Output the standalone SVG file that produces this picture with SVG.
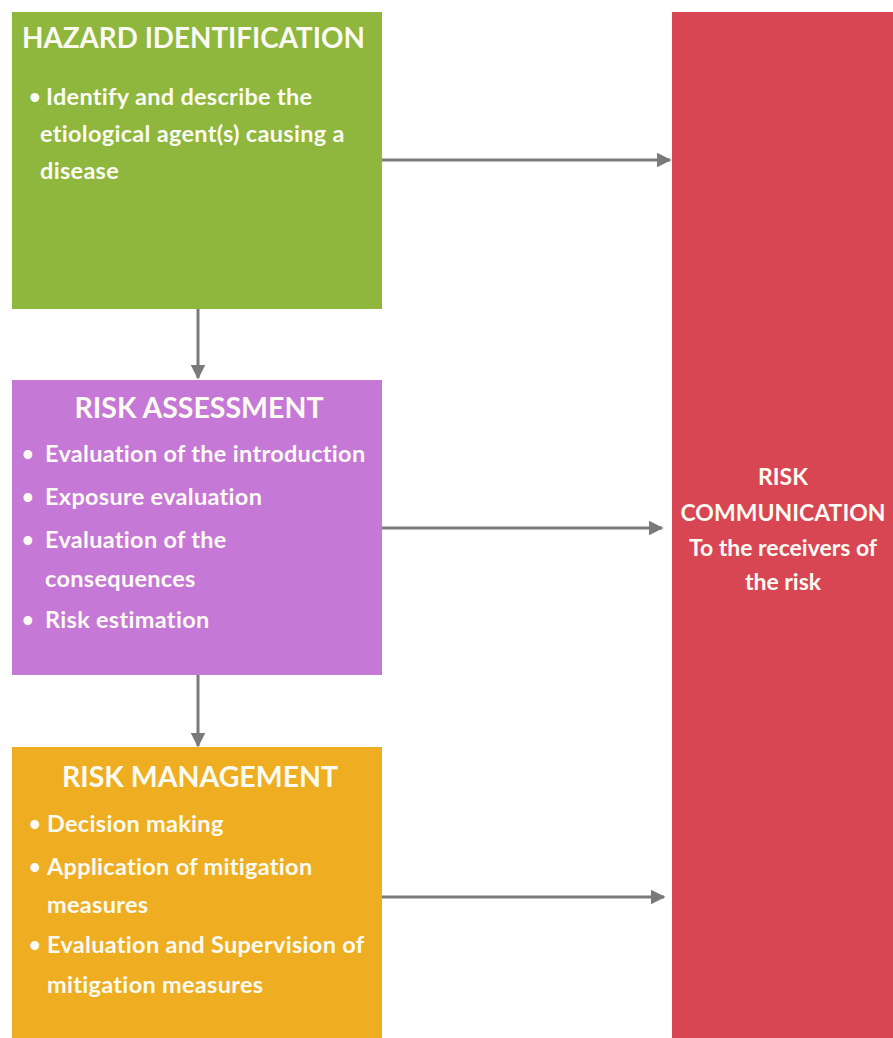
<svg xmlns="http://www.w3.org/2000/svg" width="893" height="1038" viewBox="0 0 893 1038">
<style>
text{font-family:Lato,"Open Sans","Liberation Sans",sans-serif;font-weight:bold;fill:#fbfbf3}
.t{font-size:28.5px}
.th{font-size:27.8px}
.b{font-size:23.5px;letter-spacing:0.3px}
.d{font-size:20px}
.c{font-size:23px;text-anchor:middle}
.mid{text-anchor:middle}
.conn{stroke:#7a7a7a;stroke-width:3;fill:none}
</style>
<defs>
<marker id="ah" viewBox="0 0 10 10" refX="9" refY="5" markerWidth="5" markerHeight="5" markerUnits="strokeWidth" orient="auto">
<path d="M0,0 L10,5 L0,10 z" fill="#7a7a7a"/>
</marker>
</defs>
<rect width="893" height="1038" fill="#ffffff"/>
<g id="connectors">
<path class="conn" d="M382,160 L670,160" marker-end="url(#ah)"/>
<path class="conn" d="M382,528 L662,528" marker-end="url(#ah)"/>
<path class="conn" d="M382,897 L664,897" marker-end="url(#ah)"/>
<path class="conn" d="M198,308 L198,378" marker-end="url(#ah)"/>
<path class="conn" d="M198,675 L198,746" marker-end="url(#ah)"/>
</g>
<g id="hazard">
<rect x="12" y="12" width="370" height="297" fill="#8fb63d"/>
<text class="th" x="22" y="48">HAZARD IDENTIFICATION</text>
<text class="d" x="29" y="104">•</text>
<text class="b" x="46" y="105">Identify and describe the</text>
<text class="b" x="40" y="142">etiological agent(s) causing a</text>
<text class="b" x="40" y="179">disease</text>
</g>
<g id="assessment">
<rect x="12" y="380" width="370" height="295" fill="#c678d7"/>
<text class="t mid" x="199" y="418">RISK ASSESSMENT</text>
<text class="d" x="22" y="461">•</text>
<text class="b" x="45" y="462">Evaluation of the introduction</text>
<text class="d" x="22" y="504">•</text>
<text class="b" x="45" y="505">Exposure evaluation</text>
<text class="d" x="22" y="547">•</text>
<text class="b" x="45" y="548">Evaluation of the</text>
<text class="b" x="45" y="587">consequences</text>
<text class="d" x="22" y="627">•</text>
<text class="b" x="45" y="628">Risk estimation</text>
</g>
<g id="management">
<rect x="12" y="747" width="370" height="291" fill="#efae22"/>
<text class="t mid" x="200" y="787">RISK MANAGEMENT</text>
<text class="d" x="29" y="831">•</text>
<text class="b" x="47" y="832">Decision making</text>
<text class="d" x="29" y="874">•</text>
<text class="b" x="47" y="875">Application of mitigation</text>
<text class="b" x="47" y="913">measures</text>
<text class="d" x="29" y="952">•</text>
<text class="b" x="47" y="953">Evaluation and Supervision of</text>
<text class="b" x="47" y="993">mitigation measures</text>
</g>
<g id="communication">
<rect x="672" y="12" width="221" height="1026" fill="#d84553"/>
<text class="c" x="783" y="485">RISK</text>
<text class="c" x="783" y="521">COMMUNICATION</text>
<text class="c" x="783" y="556">To the receivers of</text>
<text class="c" x="783" y="590">the risk</text>
</g>
</svg>
